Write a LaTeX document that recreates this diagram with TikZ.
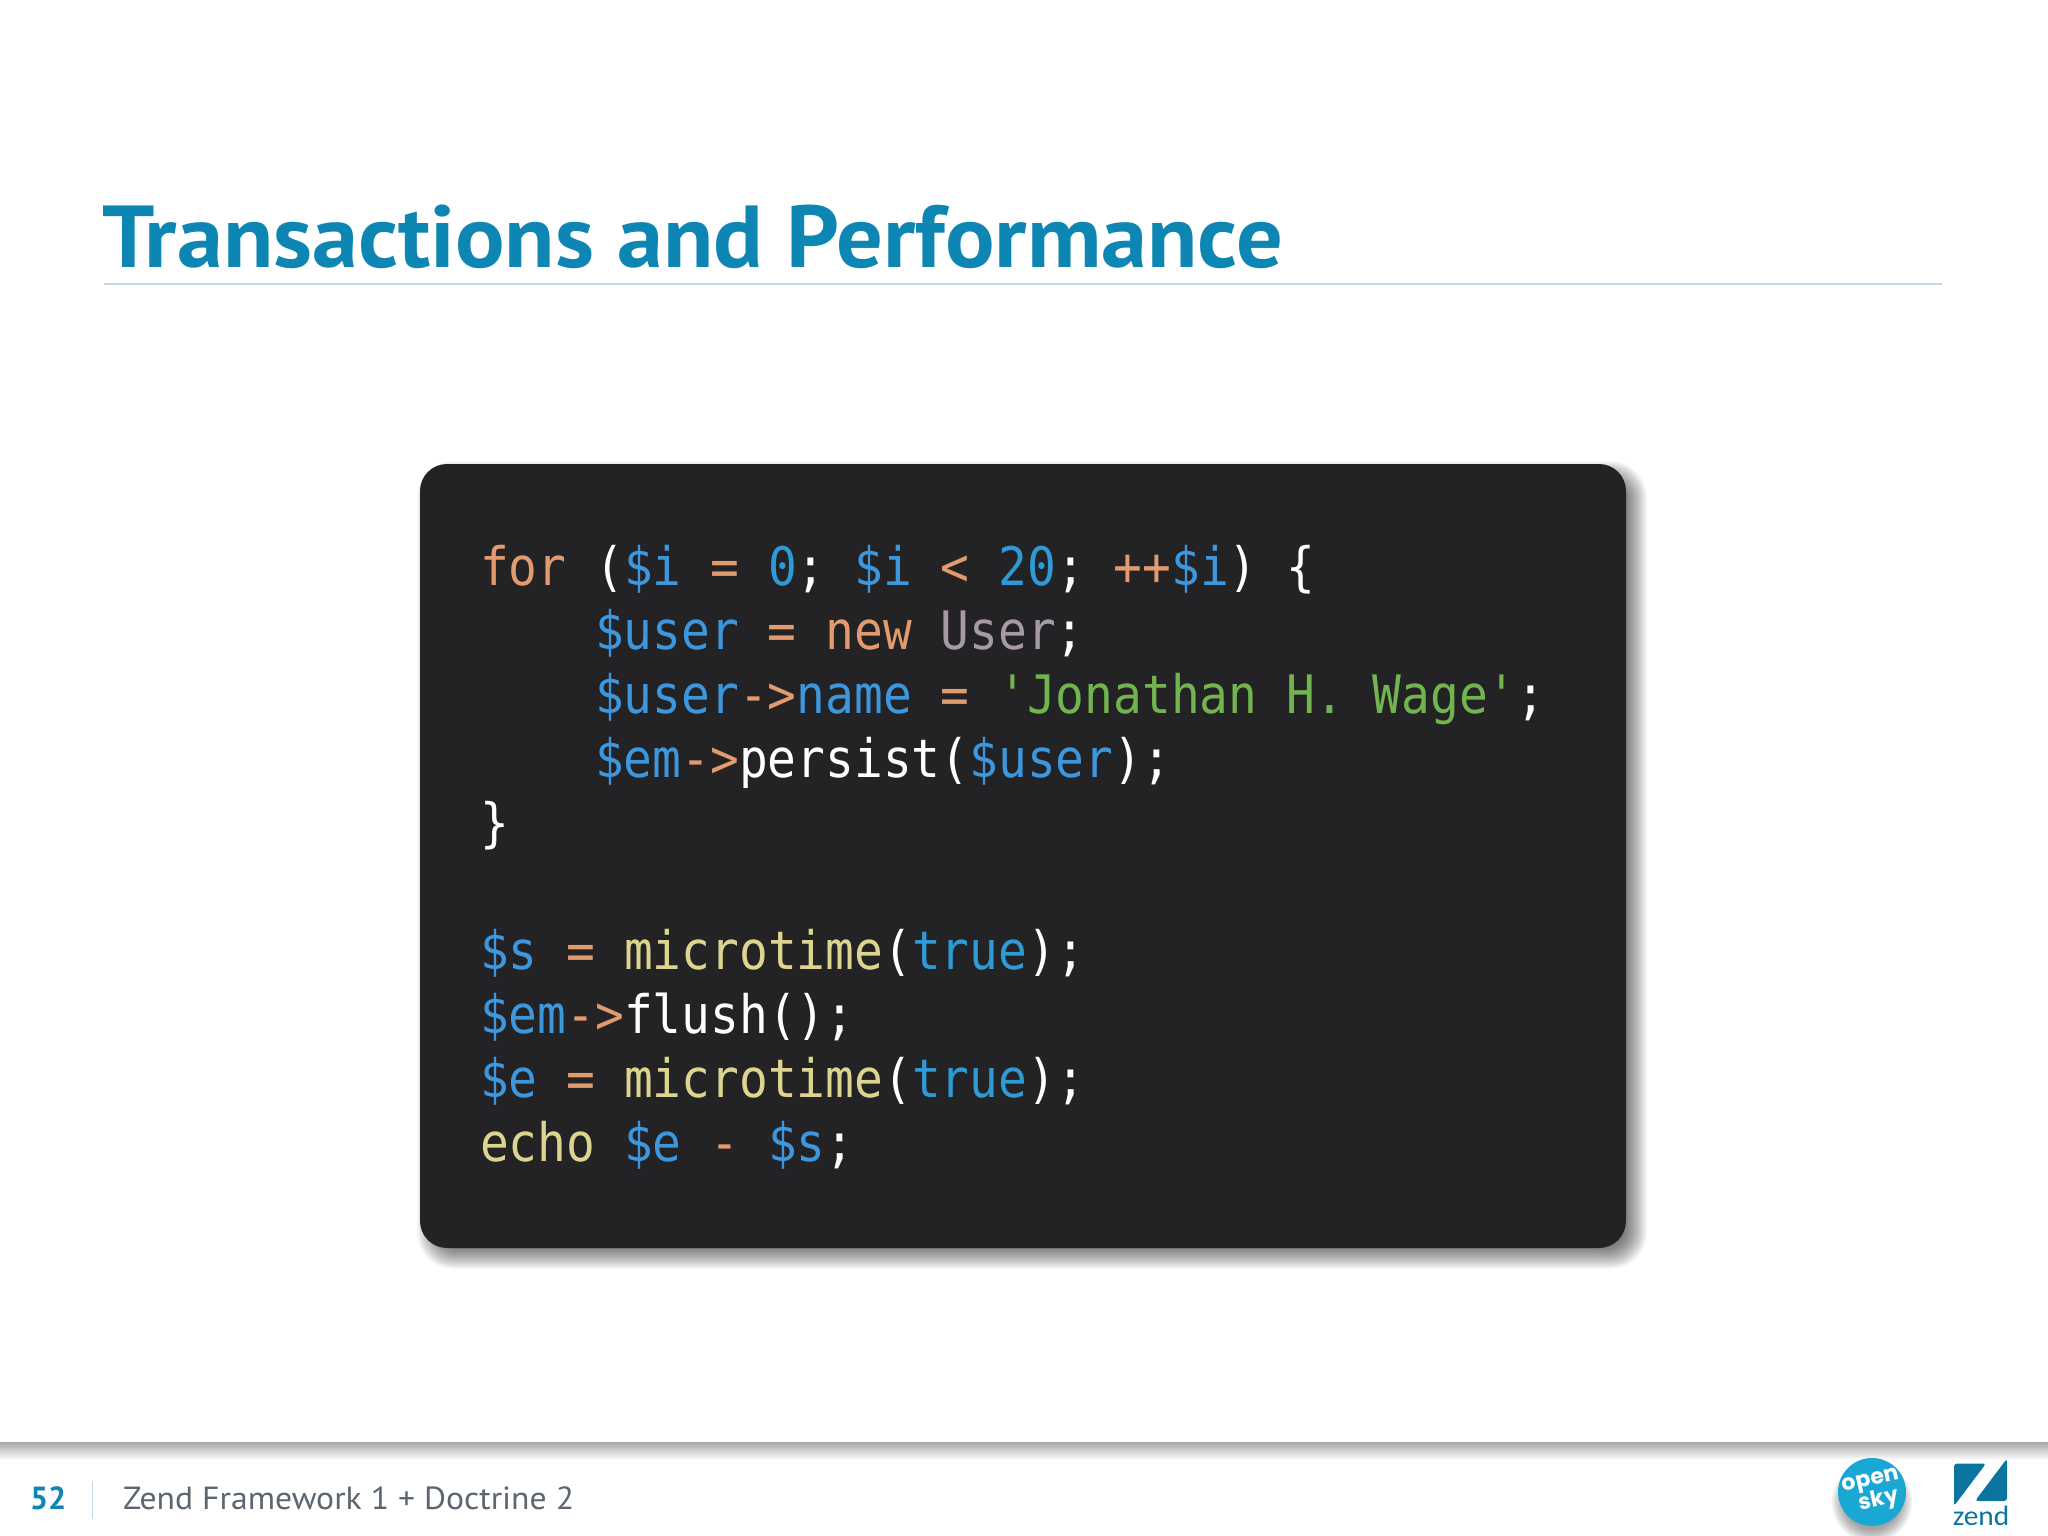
\documentclass[tikz,border=0pt]{standalone}
\usepackage{fontspec}
\setmainfont{PT Sans}
\newfontfamily\titlefont[FakeStretch=1.05]{PT Sans}
\newfontfamily\codefont[FakeStretch=0.9027]{DejaVu Sans Mono}
\newfontfamily\footfont[FakeStretch=1.052]{PT Sans}
\newfontfamily\logofont{Poppins}
\newfontfamily\zendfont[FakeStretch=1.05]{Carlito}
\definecolor{titleblue}{HTML}{0E86B4}
\definecolor{rulecol}{HTML}{BFDCE8}
\definecolor{cardcol}{HTML}{232224}
\definecolor{cor}{HTML}{E29A6F}
\definecolor{cva}{HTML}{3D97DD}
\definecolor{cnu}{HTML}{2E9AD6}
\definecolor{cye}{HTML}{DDD58F}
\definecolor{cgr}{HTML}{72B550}
\definecolor{cgy}{HTML}{A59AA6}
\definecolor{footgray}{HTML}{5C6670}
\definecolor{skyblue}{HTML}{1AA7D4}
\definecolor{zendblue}{HTML}{0A76A0}
\newcommand{\tk}[2]{\textcolor{#1}{#2}}
\tikzset{
  codeline/.style={anchor=base west,inner sep=0pt,outer sep=0pt,text=white,font=\codefont\fontsize{53}{60}\selectfont},
  plain/.style={anchor=base west,inner sep=0pt,outer sep=0pt}
}
\begin{document}
\begin{tikzpicture}[x=1pt,y=-1pt]
\useasboundingbox (0,0) rectangle (2048,1536);
\fill[white] (0,0) rectangle (2048,1536);
% title
\node[plain,text=titleblue,font=\titlefont\bfseries\fontsize{88}{100}\selectfont] (title) at (102,267) {Transactions and Performance};
\fill[rulecol] (104,283) rectangle (1942,284.5);
% card shadow
\foreach \e in {12,11,...,-14}{
  \fill[black,opacity=0.026,rounded corners=27pt+\e pt*0.8] (429-\e,473-\e) rectangle (1635+\e,1257+\e);
}
\fill[cardcol,rounded corners=27pt] (420,464) rectangle (1626,1248);
% code
\node[codeline] (l1) at (480,585) {\tk{cor}{for}~(\tk{cva}{\$i}~\tk{cor}{=}~\tk{cnu}{0};~\tk{cva}{\$i}~\tk{cor}{<}~\tk{cnu}{20};~\tk{cor}{++}\tk{cva}{\$i})~\{};
\node[codeline] (l2) at (595,649) {\tk{cva}{\$user}~\tk{cor}{=}~\tk{cor}{new}~\tk{cgy}{User};};
\node[codeline] (l3) at (595,713) {\tk{cva}{\$user}\tk{cor}{->}\tk{cva}{name}~\tk{cor}{=}~\tk{cgr}{'Jonathan H. Wage'};};
\node[codeline] (l4) at (595,777) {\tk{cva}{\$em}\tk{cor}{->}persist(\tk{cva}{\$user});};
\node[codeline] (l5) at (480,841) {\}};
\node[codeline] (l6) at (480,969) {\tk{cva}{\$s}~\tk{cor}{=}~\tk{cye}{microtime}(\tk{cnu}{true});};
\node[codeline] (l7) at (480,1033) {\tk{cva}{\$em}\tk{cor}{->}flush();};
\node[codeline] (l8) at (480,1097) {\tk{cva}{\$e}~\tk{cor}{=}~\tk{cye}{microtime}(\tk{cnu}{true});};
\node[codeline] (l9) at (480,1161) {\tk{cye}{echo}~\tk{cva}{\$e}~\tk{cor}{-}~\tk{cva}{\$s};};
% footer
\shade[top color=black!34,bottom color=white] (0,1442) rectangle (2048,1460);
\node[plain,text=titleblue,font=\bfseries\fontsize{32}{36}\selectfont] (num) at (30,1509) {52};
\fill[rulecol] (91.5,1481) rectangle (92.8,1519);
\node[plain,text=footgray,font=\footfont\fontsize{32}{36}\selectfont] (foot) at (123,1509) {Zend Framework 1 + Doctrine 2};
% open sky logo
\foreach \e in {6,4,...,-6}{
  \fill[black,opacity=0.06] (1872,1502) circle (34+\e);
}
\fill[skyblue] (1872,1492) circle (34);
\node[inner sep=0pt,text=white,rotate=13,font=\logofont\bfseries\fontsize{22}{22}\selectfont] (open) at (1871,1482) {open};
\node[inner sep=0pt,text=white,rotate=13,font=\logofont\bfseries\fontsize{22}{22}\selectfont] (sky) at (1879,1501) {sky};
% zend logo
\fill[zendblue,rounded corners=3pt] (1954,1463.5) -- (1986,1463.5) -- (1954,1506) -- cycle;
\fill[zendblue,rounded corners=3pt] (2007,1458.5) -- (2007,1501) -- (1975,1501) -- cycle;
\node[inner sep=0pt,text=zendblue,font=\zendfont\fontsize{28}{28}\selectfont] (zend) at (1981,1516) {zend};
\end{tikzpicture}
\end{document}
